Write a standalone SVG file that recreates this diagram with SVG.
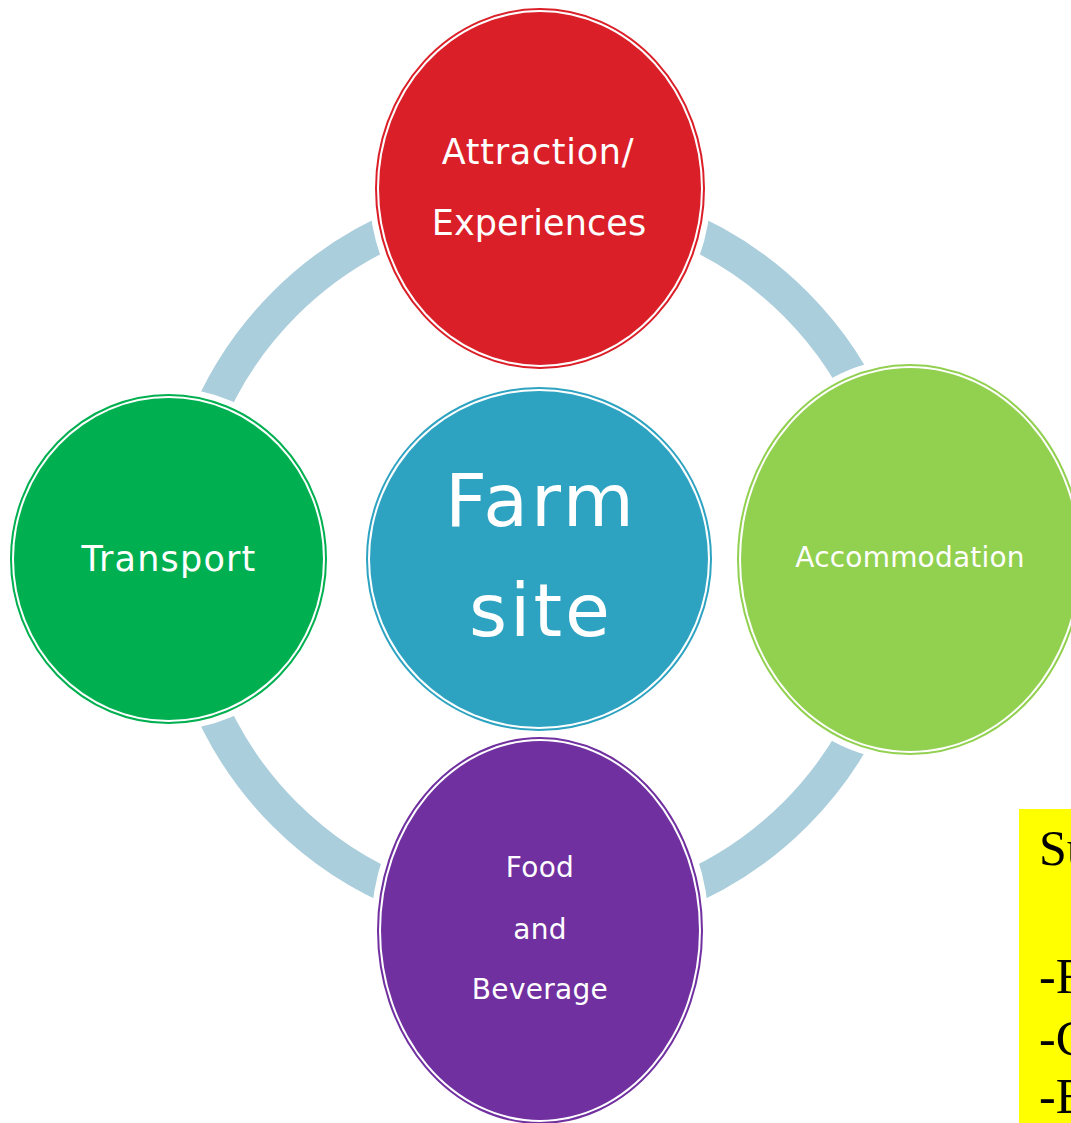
<svg xmlns="http://www.w3.org/2000/svg" width="1071" height="1123" viewBox="0 0 1071 1123">
<style>
.halo{fill:#fff}
.lbl{font-family:"DejaVu Sans",sans-serif;fill:#fff;text-anchor:middle}
.note{font-family:"Liberation Serif",serif;font-size:50px;fill:#000}
</style>
<rect width="1071" height="1123" fill="#fff"/>
<g id="connectors">
<circle cx="540" cy="559" r="361" fill="none" stroke="#ABCEDC" stroke-width="34"/>
</g>
<g id="attraction">
<ellipse class="halo" cx="540" cy="188.5" rx="171" ry="186.5"/>
<ellipse cx="540" cy="188.5" rx="164" ry="179.5" fill="none" stroke="#DA1F28" stroke-width="2"/>
<ellipse cx="540" cy="188.5" rx="161" ry="176.5" fill="#DA1F28"/>
<text class="lbl" x="538" y="164" font-size="35" letter-spacing="0.7">Attraction/</text>
<text class="lbl" x="539" y="235" font-size="35" letter-spacing="0.1">Experiences</text>
</g>
<g id="farm">
<ellipse class="halo" cx="539" cy="559" rx="179" ry="178"/>
<ellipse cx="539" cy="559" rx="172" ry="171" fill="none" stroke="#2EA3C1" stroke-width="2"/>
<ellipse cx="539" cy="559" rx="169" ry="168" fill="#2EA3C1"/>
<text class="lbl" x="541" y="526" font-size="73" letter-spacing="3">Farm</text>
<text class="lbl" x="541" y="636" font-size="73" letter-spacing="3">site</text>
</g>
<g id="accommodation">
<ellipse class="halo" cx="910" cy="559.5" rx="179" ry="201.5"/>
<ellipse cx="910" cy="559.5" rx="172" ry="194.5" fill="none" stroke="#92D050" stroke-width="2"/>
<ellipse cx="910" cy="559.5" rx="169" ry="191.5" fill="#92D050"/>
<text class="lbl" x="910" y="567" font-size="28" letter-spacing="0.2">Accommodation</text>
</g>
<g id="food">
<ellipse class="halo" cx="540" cy="930.5" rx="169" ry="199.5"/>
<ellipse cx="540" cy="930.5" rx="162" ry="192.5" fill="none" stroke="#7030A0" stroke-width="2"/>
<ellipse cx="540" cy="930.5" rx="159" ry="189.5" fill="#7030A0"/>
<text class="lbl" x="540" y="877" font-size="28" letter-spacing="0.3">Food</text>
<text class="lbl" x="540" y="939" font-size="28" letter-spacing="0.3">and</text>
<text class="lbl" x="540" y="999" font-size="28" letter-spacing="0.3">Beverage</text>
</g>
<g id="transport">
<ellipse class="halo" cx="168.5" cy="559" rx="164.5" ry="171"/>
<ellipse cx="168.5" cy="559" rx="157.5" ry="164" fill="none" stroke="#00B050" stroke-width="2"/>
<ellipse cx="168.5" cy="559" rx="154.5" ry="161" fill="#00B050"/>
<text class="lbl" x="169" y="571" font-size="35" letter-spacing="1.2">Transport</text>
</g>
<g id="note">
<rect x="1019" y="809" width="60" height="320" fill="#FFFF00"/>
<text class="note" x="1039" y="865">Su</text>
<text class="note" x="1039" y="993">-F</text>
<text class="note" x="1039" y="1055">-C</text>
<text class="note" x="1039" y="1113">-E</text>
</g>
</svg>
